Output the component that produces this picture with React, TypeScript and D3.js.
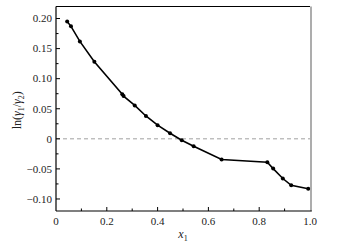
import React from "react";
import * as d3 from "d3";

// mole fraction x1 and ln(gamma1/gamma2)
const x1Values = [0.044, 0.059, 0.094, 0.151, 0.261, 0.266, 0.31, 0.354, 0.4, 0.449, 0.495, 0.542, 0.652, 0.832, 0.855, 0.893, 0.926, 0.993];
const lnRatio = [0.195, 0.187, 0.162, 0.128, 0.074, 0.071, 0.0555, 0.038, 0.0227, 0.0093, -0.0023, -0.0123, -0.0345, -0.039, -0.0495, -0.066, -0.0773, -0.083];
const xTicks = [0, 0.2, 0.4, 0.6, 0.8, 1.0];
const xMinor = [0.1, 0.3, 0.5, 0.7, 0.9];
const yTicks = [0.2, 0.15, 0.1, 0.05, 0, -0.05, -0.1];
const yMinor = [0.175, 0.125, 0.075, 0.025, -0.025, -0.075];

const yLabel = (v: number) => (v === 0 ? "0" : d3.format(".2f")(v).replace("-", "\u2212"));
const xLabel = (v: number) => (v === 0 ? "0" : d3.format(".1f")(v));

export default function App() {
    const W = 352, H = 250;
    const M = { left: 56, right: 310, top: 6.5, bottom: 211 };
    const x = d3.scaleLinear().domain([0, 1]).range([M.left, M.right]);
    const y = d3.scaleLinear().domain([-0.12, 0.22]).range([M.bottom, M.top]);

    const pts = x1Values.map((v, i) => [v, lnRatio[i]] as [number, number]);
    const line = d3.line<[number, number]>().x((d) => x(d[0])).y((d) => y(d[1]));

    const font = "'Liberation Serif', 'Times New Roman', serif";

    return (
        <svg width={W} height={H} style={{ position: "absolute", left: 0, top: 0 }} fontFamily={font}>
            <rect width={W} height={H} fill="#fff" />
            <line x1={x(0)} x2={x(1)} y1={y(0)} y2={y(0)} stroke="#888" strokeWidth={0.8} strokeDasharray="4,3" />
            <path d={line(pts) ?? undefined} fill="none" stroke="#000" strokeWidth={1.6} />
            {pts.map((d, i) => (
                <circle key={i} cx={x(d[0])} cy={y(d[1])} r={2} fill="#000" />
            ))}
            {/* frame */}
            <line x1={M.right + 1} x2={M.right + 1} y1={M.top} y2={M.bottom} stroke="#999" strokeWidth={1.6} />
            <line x1={M.left} x2={M.right} y1={M.top} y2={M.top} stroke="#000" strokeWidth={1.2} />
            <line x1={M.left} x2={M.left} y1={M.top} y2={M.bottom} stroke="#000" strokeWidth={1.2} />
            <line x1={M.left} x2={M.right + 1.8} y1={M.bottom} y2={M.bottom} stroke="#000" strokeWidth={1.2} />
            {/* x ticks */}
            {xTicks.map((t) => (
                <g key={t}>
                    {t > 0 && t < 1 && <line x1={x(t)} x2={x(t)} y1={M.bottom} y2={M.bottom - 4} stroke="#000" />}
                    <text x={x(t)} y={M.bottom + 14} fontSize={11} textAnchor="middle" fill="#222">{xLabel(t)}</text>
                </g>
            ))}
            {xMinor.map((t) => (
                <line key={t} x1={x(t)} x2={x(t)} y1={M.bottom} y2={M.bottom - 2.5} stroke="#000" />
            ))}
            {/* y ticks */}
            {yTicks.map((t) => (
                <g key={t}>
                    <line x1={M.left} x2={M.left + 4} y1={y(t)} y2={y(t)} stroke="#000" />
                    <text x={M.left - 4} y={y(t) + 3.8} fontSize={11} textAnchor="end" fill="#222">{yLabel(t)}</text>
                </g>
            ))}
            {yMinor.map((t) => (
                <line key={t} x1={M.left} x2={M.left + 2.5} y1={y(t)} y2={y(t)} stroke="#000" />
            ))}
            {/* axis labels */}
            <text x={(M.left + M.right) / 2} y={238} fontSize={12} textAnchor="middle" fill="#222">
                <tspan fontStyle="italic">x</tspan>
                <tspan fontSize={8} dy={3}>1</tspan>
            </text>
            <text transform={`translate(21,${y(0.0475)}) rotate(-90)`} fontSize={12} textAnchor="middle" fill="#222">
                ln(<tspan fontStyle="italic">γ</tspan>
                <tspan fontSize={8} dy={3}>1</tspan>
                <tspan dy={-3}>/</tspan>
                <tspan fontStyle="italic">γ</tspan>
                <tspan fontSize={8} dy={3}>2</tspan>
                <tspan dy={-3}>)</tspan>
            </text>
        </svg>
    );
}
